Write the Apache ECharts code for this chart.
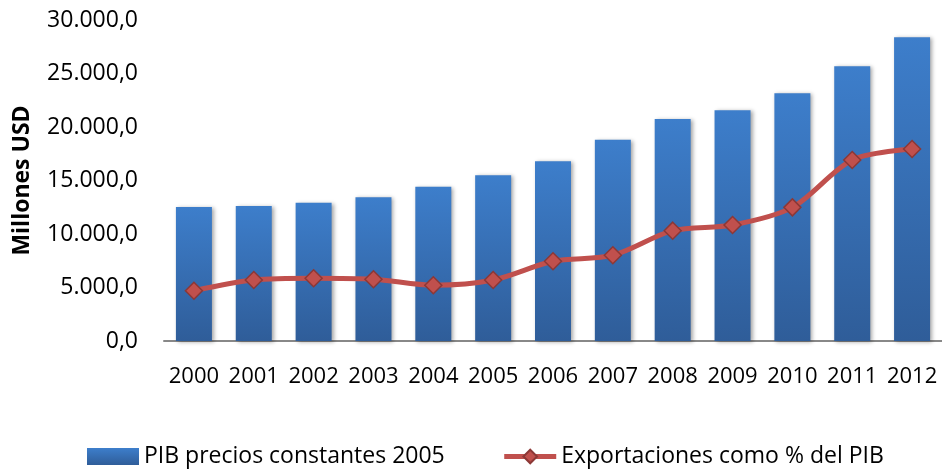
<!DOCTYPE html>
<html>
<head>
<meta charset="utf-8">
<script src="https://cdn.jsdelivr.net/npm/echarts@6/dist/echarts.min.js"></script>
<style>
    html, body { margin: 0; padding: 0; background: #fff; }
    #chart { width: 942px; height: 469px; }
</style>
</head>
<body>
<div id="chart"></div>
<script>
    // datos
    var years = ['2000', '2001', '2002', '2003', '2004', '2005', '2006', '2007', '2008', '2009', '2010', '2011', '2012'];
    var pib = [12520, 12620, 12930, 13430, 14420, 15480, 16790, 18810, 20750, 21560, 23150, 25670, 28380];
    var exportaciones = [4700, 5700, 5860, 5770, 5210, 5700, 7450, 8010, 10310, 10840, 12490, 16920, 17940];
    var yTicks = [0, 5000, 10000, 15000, 20000, 25000, 30000];

    var fontName = 'Open Sans';

    function fmt(v) {
        var s = Math.round(v).toString();
        s = s.replace(/\B(?=(\d{3})+(?!\d))/g, '.');
        return s + ',0';
    }

    var myChart = echarts.init(document.getElementById('chart'));

    var option = {
        animation: false,
        textStyle: { fontFamily: fontName },
        grid: {
            left: 164,
            right: 0,
            top: 20,
            bottom: 128,
            outerBoundsMode: 'none'
        },
        legend: {
            top: 440,
            left: 82,
            itemWidth: 52,
            itemHeight: 17,
            itemGap: 57,
            itemTextGap: 6,
            textStyle: { fontSize: 23, color: '#000', fontFamily: fontName },
            data: [
                { name: 'PIB precios constantes 2005', icon: 'rect' },
                { name: 'Exportaciones como % del PIB', lineStyle: { width: 5 } }
            ]
        },
        xAxis: {
            type: 'category',
            data: years,
            axisLine: { show: true, lineStyle: { color: '#888', width: 2 } },
            axisTick: { show: false },
            axisLabel: { color: '#000', fontSize: 22, margin: 25, interval: 0, fontFamily: fontName }
        },
        yAxis: {
            type: 'value',
            min: yTicks[0],
            max: yTicks[yTicks.length - 1],
            interval: yTicks[1] - yTicks[0],
            name: 'Millones USD',
            nameLocation: 'middle',
            nameGap: 130,
            nameRotate: 90,
            nameTextStyle: { fontSize: 23, fontWeight: 'bold', color: '#000', fontFamily: fontName },
            axisLine: { show: false },
            axisTick: { show: false },
            splitLine: { show: false },
            axisLabel: {
                color: '#000',
                fontSize: 23,
                margin: 26,
                fontFamily: fontName,
                formatter: function (v) { return fmt(v); }
            }
        },
        series: [
            {
                name: 'PIB precios constantes 2005',
                type: 'bar',
                barWidth: 36,
                data: pib,
                itemStyle: {
                    color: new echarts.graphic.LinearGradient(0, 0, 0, 1, [
                        { offset: 0, color: '#3d7ecb' },
                        { offset: 1, color: '#2f5d99' }
                    ]),
                    shadowColor: 'rgba(0,0,0,0.35)',
                    shadowBlur: 4,
                    shadowOffsetX: 2,
                    shadowOffsetY: 1
                }
            },
            {
                name: 'Exportaciones como % del PIB',
                type: 'line',
                smooth: 0.3,
                data: exportaciones,
                symbol: 'diamond',
                symbolSize: 17,
                lineStyle: { color: '#c0504d', width: 5 },
                itemStyle: { color: '#c0504d', borderColor: '#8c3836', borderWidth: 1.5 }
            }
        ]
    };

    myChart.setOption(option);
    window.addEventListener('resize', myChart.resize);
</script>
</body>
</html>
